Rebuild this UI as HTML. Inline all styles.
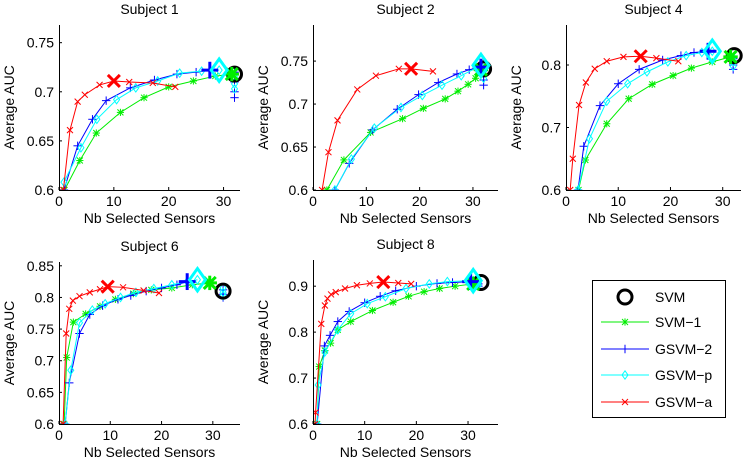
<!DOCTYPE html>
<html><head><meta charset="utf-8">
<style>
html,body{margin:0;padding:0;background:#fff;}
svg{display:block;font-family:"Liberation Sans",Arial,sans-serif;}
</style></head>
<body>
<svg id="fig" width="747" height="467" viewBox="0 0 747 467" xmlns="http://www.w3.org/2000/svg"></svg>
<script>
// ---- data ----
const subjects = ["Subject 1","Subject 2","Subject 4","Subject 6","Subject 8"];
const yTicks = [[0.6,0.65,0.7,0.75],[0.6,0.65,0.7,0.75],[0.6,0.7,0.8],[0.6,0.65,0.7,0.75,0.8,0.85],[0.6,0.7,0.8,0.9]];
const yTickLabels = [["0.6","0.65","0.7","0.75"],["0.6","0.65","0.7","0.75"],["0.6","0.7","0.8"],["0.6","0.65","0.7","0.75","0.8","0.85"],["0.6","0.7","0.8","0.9"]];
const xTicks = [0,10,20,30];
const seriesNames = ["SVM-1","GSVM-2","GSVM-p","GSVM-a"];
// SVM-1 (green)
const svm1X = [[1,3.8,6.8,11.2,15.5,20,24.5,28.5,31.5],[2.6,5.8,10.8,16.8,20.7,24.8,27.2,29.1,30.5,31.5],[2.4,3.7,7.8,12,16.5,20.5,24,28,31.5],[1,1.5,2.8,5.2,8,11,14.5,18,22,26,29.4],[0.8,1.2,2.3,3.4,4.8,7.3,11.5,15.5,18.5,21.5,24.5,27.5,31]];
const svm1Y = [[0.6,0.63,0.658,0.679,0.694,0.705,0.711,0.716,0.718],[0.6,0.635,0.667,0.683,0.695,0.706,0.715,0.723,0.73,0.74],[0.6,0.648,0.706,0.746,0.769,0.783,0.795,0.805,0.813],[0.6,0.705,0.761,0.774,0.786,0.797,0.806,0.812,0.815,0.82,0.823],[0.6,0.725,0.76,0.776,0.805,0.823,0.847,0.865,0.878,0.888,0.895,0.9,0.905]];
// GSVM-2 (blue)
const gsvm2X = [[0.9,3.4,6.1,8.6,13,17.4,21.5,25,27.5],[4.1,6.8,11.2,15.8,19.8,23.5,27,29.3,31.5],[2.3,3.4,6.5,10,14,18.5,22,24.5,27.2],[1.2,2,4,6,8.5,11.5,14,17,20,23,25],[0.8,2.2,3.3,4.8,7,10,13,16,20,24,27,30.5]];
const gsvm2Y = [[0.6,0.645,0.672,0.691,0.704,0.712,0.718,0.72,0.722],[0.6,0.631,0.67,0.694,0.711,0.725,0.735,0.74,0.743],[0.6,0.67,0.735,0.77,0.793,0.808,0.815,0.82,0.822],[0.6,0.665,0.743,0.773,0.787,0.797,0.803,0.81,0.815,0.82,0.825],[0.6,0.77,0.793,0.823,0.845,0.864,0.878,0.89,0.9,0.906,0.908,0.91]];
// GSVM-p (cyan)
const gsvmpX = [[0.9,4,6.9,10.5,14,18,22,26,29.2],[4.1,7.2,11.5,16.5,20.5,24.2,27.8,31.5],[2.3,4.5,7.8,11.8,15.5,19.5,23,26,28],[1.2,2.3,4,6.5,9,12,15,18.5,22,25,27],[0.8,1,2.3,4.8,7.3,10.5,14,18,22.5,26,31]];
const gsvmpY = [[0.608,0.643,0.672,0.692,0.704,0.711,0.719,0.721,0.722],[0.6,0.636,0.672,0.696,0.71,0.722,0.733,0.745],[0.6,0.682,0.742,0.77,0.789,0.805,0.815,0.82,0.822],[0.6,0.685,0.76,0.78,0.79,0.8,0.808,0.814,0.82,0.825,0.828],[0.6,0.685,0.757,0.805,0.84,0.862,0.877,0.895,0.905,0.91,0.912]];
// GSVM-a (red)
const gsvmaX = [[0.8,2,3.4,4.7,7.4,10,12.8,17.1,21.2],[1.7,2.9,4.6,8.3,11.8,16.1,18.4,22.5],[0.8,1.3,2.5,3.8,5.5,7.8,11,14.3,17.3,21.5],[0.8,1.4,2,2.7,4,6,8,9.5,12.5,16.5,19.5],[0.4,0.5,1.6,2.3,2.8,3.5,4.4,6.2,8.5,11,13.6,16.5,19]];
const gsvmaY = [[0.6,0.661,0.69,0.697,0.707,0.711,0.71,0.709,0.705],[0.6,0.644,0.681,0.717,0.733,0.741,0.741,0.738],[0.6,0.65,0.736,0.772,0.794,0.806,0.813,0.814,0.811,0.806],[0.6,0.743,0.782,0.795,0.802,0.808,0.813,0.817,0.816,0.811,0.807],[0.6,0.625,0.818,0.858,0.873,0.882,0.887,0.895,0.902,0.906,0.909,0.907,0.905]];
// index of highlighted (best) point per subject per series [svm1,gsvm2,gsvmp,gsvma]
const bestIdx = [[8,8,8,5],[9,8,7,6],[8,8,8,7],[10,10,10,7],[12,11,10,10]];
// SVM reference point
const svmX = [32,32,32.2,32,32.5];
const svmY = [0.718,0.741,0.815,0.81,0.908];
// tail points at full sensor count (cluster)
const tailBlueY = [[0.72,0.71,0.7,0.694],[0.735,0.728,0.722],[0.81,0.8,0.793],[0.812,0.805,0.8],[0.905,0.9]];
const tailCyanY = [[0.715,0.708,0.703],[0.738,0.73],[0.812,0.805,0.798],[0.815,0.808,0.803],[0.908,0.902]];

// ---- layout ----
const panels = [
 {l:59,r:240,t:25,b:190,xmax:33,ymin:0.6,ymax:0.768},
 {l:313,r:498,t:25,b:190,xmax:34.7,ymin:0.6,ymax:0.792},
 {l:566,r:741,t:25,b:190,xmax:33.5,ymin:0.6,ymax:0.864},
 {l:59,r:240,t:262,b:424,xmax:35.3,ymin:0.6,ymax:0.856},
 {l:313,r:498,t:260,b:424,xmax:35.8,ymin:0.6,ymax:0.957}
];
const colors = ["#00ee00","#0000ff","#00ffff","#ff0000"];
const FS = 14;
const NS="http://www.w3.org/2000/svg";
const svg=document.getElementById('fig');
function el(tag,attrs,parent){const e=document.createElementNS(NS,tag);for(const k in attrs)e.setAttribute(k,attrs[k]);(parent||svg).appendChild(e);return e;}
function marker(g,type,cx,cy,s,col,w){
  const m=el('g',{stroke:col,'stroke-width':w,fill:'none'},g);
  if(type==='x'||type==='*'){el('line',{x1:cx-s,y1:cy-s,x2:cx+s,y2:cy+s},m);el('line',{x1:cx-s,y1:cy+s,x2:cx+s,y2:cy-s},m);}
  if(type==='+'||type==='*'){const k=type==='*'?s*1.2:s*1.4;el('line',{x1:cx-k,y1:cy,x2:cx+k,y2:cy},m);el('line',{x1:cx,y1:cy-k,x2:cx,y2:cy+k},m);}
  if(type==='d'){el('polygon',{points:`${cx},${cy-s*1.4} ${cx+s},${cy} ${cx},${cy+s*1.4} ${cx-s},${cy}`},m);}
  if(type==='o'){el('circle',{cx:cx,cy:cy,r:s},m);}
  return m;
}
const types=['*','+','d','x'];
const allX=[svm1X,gsvm2X,gsvmpX,gsvmaX], allY=[svm1Y,gsvm2Y,gsvmpY,gsvmaY];
panels.forEach((p,i)=>{
  const g=el('g',{});
  
  
  const xs=v=>p.l+v/p.xmax*(p.r-p.l);
  const ys=v=>p.b-(v-p.ymin)/(p.ymax-p.ymin)*(p.b-p.t);
  const clip=el('clipPath',{id:'c'+i},g);el('rect',{x:p.l,y:p.t,width:p.r-p.l+8,height:p.b-p.t},clip);
  const plot=el('g',{'clip-path':`url(#c${i})`},g);
  for(let s=0;s<4;s++){
    const X=allX[s][i],Y=allY[s][i];
    const sg=el('g',{},plot);
    
    
    el('polyline',{points:X.map((x,k)=>xs(x)+','+ys(Y[k])).join(' '),fill:'none',stroke:colors[s],'stroke-width':1},sg);
    X.forEach((x,k)=>marker(sg,types[s],xs(x),ys(Y[k]),3,colors[s],1));
    if(s===1) tailBlueY[i].forEach(v=>marker(sg,'+',xs(32),ys(v),3,colors[1],1));
    if(s===2) tailCyanY[i].forEach(v=>marker(sg,'d',xs(32),ys(v),3,colors[2],1));
  }
  const sv=marker(plot,'o',xs(svmX[i]),ys(svmY[i]),7,'#000',3);
  
  
  for(let s=0;s<4;s++){
    const k=bestIdx[i][s];
    const bm=marker(plot,types[s],xs(allX[s][i][k]),ys(allY[s][i][k]),types[s]==='d'?8:6,colors[s],3);
    
    
  }
  const ax=el('g',{stroke:'#000','stroke-width':1},g);
  
  
  el('line',{x1:p.l+.5,y1:p.t,x2:p.l+.5,y2:p.b+.5},ax);
  el('line',{x1:p.l,y1:p.b+.5,x2:p.r,y2:p.b+.5},ax);
  xTicks.forEach(t=>{
    const x=xs(t);
    el('line',{x1:x,y1:p.b,x2:x,y2:p.b-3},ax);
    const tx=el('text',{x:x,y:p.b+16,'text-anchor':'middle','font-size':FS,fill:'#000',stroke:'none'},g);
    tx.textContent=t;
    
    
  });
  yTicks[i].forEach((t,k)=>{
    const y=ys(t);
    el('line',{x1:p.l,y1:y,x2:p.l+3,y2:y},ax);
    const tx=el('text',{x:p.l-5,y:y+5,'text-anchor':'end','font-size':FS,fill:'#000'},g);
    tx.textContent=yTickLabels[i][k];
    
    
  });
  const ti=el('text',{x:(p.l+p.r)/2,y:p.t-11,'text-anchor':'middle','font-size':FS,fill:'#000'},g);
  ti.textContent=subjects[i];
  
  
  const xl=el('text',{x:(p.l+p.r)/2,y:p.b+33,'text-anchor':'middle','font-size':FS,fill:'#000'},g);
  xl.textContent='Nb Selected Sensors';
  
  
  const yc=(p.t+p.b)/2, yx=p.l-45;
  const yl=el('text',{x:yx,y:yc,'text-anchor':'middle','font-size':FS,fill:'#000',transform:`rotate(-90 ${yx} ${yc})`},g);
  yl.textContent='Average AUC';
  
  
});
// legend
const lg=el('g',{});


el('rect',{x:592.5,y:280.5,width:133,height:137,fill:'#fff',stroke:'#000','stroke-width':1},lg);
const legNames=["SVM","SVM-1","GSVM-2","GSVM-p","GSVM-a"];
const legY=[297,322,349,375,402];
legNames.forEach((n,k)=>{
  const e=el('g',{},lg);
  
  
  if(k===0){marker(e,'o',625,legY[k],7,'#000',3);}
  else{el('line',{x1:601,y1:legY[k],x2:649,y2:legY[k],stroke:colors[k-1],'stroke-width':1},e);marker(e,types[k-1],625,legY[k],3,colors[k-1],1);}
  const t=el('text',{x:655,y:legY[k]+5,'font-size':FS,fill:'#000'},e);
  t.textContent=n.replace('-','\u2212');
});
</script>
</body></html>
